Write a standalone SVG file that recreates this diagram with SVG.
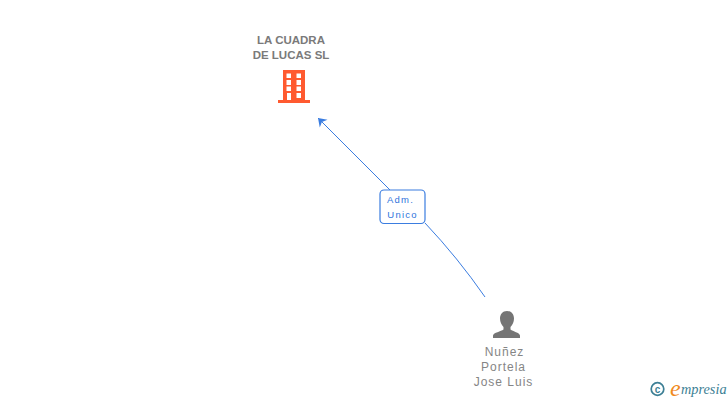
<svg xmlns="http://www.w3.org/2000/svg" width="728" height="400" viewBox="0 0 728 400">
<style>
text{font-family:"Liberation Sans",Arial,sans-serif}
.co{font-size:11.500px;font-weight:bold;fill:#7a7a7a;text-anchor:middle}
.pe{font-size:12px;fill:#858585;text-anchor:middle;letter-spacing:1px}
.ed{font-size:9.500px;fill:#2f74dc;text-anchor:middle;letter-spacing:1.200px}
.ln{fill:none;stroke:#3b7de0;stroke-width:1}
</style>
<defs><marker id="ah" markerUnits="userSpaceOnUse" markerWidth="12" markerHeight="12" refX="8" refY="6" orient="auto"><path d="M8 6L0 .5L2.500 6L0 11.500Z" fill="#3b7de0"/></marker></defs>
<rect width="728" height="400" fill="#fff"/>
<g id="connectors">
<path class="ln" d="M390 190L318 118" marker-end="url(#ah)"/>
<path class="ln" d="M425 223Q458 258 485 297"/>
</g>
<g id="edge-label">
<rect x="380" y="190" width="45" height="33.500" rx="4" fill="#fff" stroke="#3b7de0" stroke-width="1.200"/>
<text class="ed" x="400.500" y="203">Adm.</text>
<text class="ed" x="402.500" y="218">Unico</text>
</g>
<g id="company">
<text class="co" x="291" y="44">LA CUADRA</text>
<text class="co" x="291" y="59">DE LUCAS SL</text>
<path fill="#ff5a30" fill-rule="evenodd" d="M283 70H305V100H310V103H278V100H283ZM286.500 73.500V78H291V73.500ZM296.500 73.500V78H301V73.500ZM286.500 80V85H291V80ZM296.500 80V85H301V80ZM286.500 86.500V91H291V86.500ZM296.500 86.500V91H301V86.500ZM287 93V100H291V93ZM296.500 93V98H301V93Z"/>
</g>
<g id="person">
<path fill="#757575" d="M507 311C511.500 311 514 314.500 514 318.500C514 322 512.500 325 510.500 327V329.500C513 331.500 519.500 332.500 520 335.500V338H493V335.500C493.500 332.500 501 331.500 503.500 329.500V327C501.500 325 500 322 500 318.500C500 314.500 502.500 311 507 311Z"/>
<text class="pe" x="504.500" y="356">Nuñez</text>
<text class="pe" x="503.500" y="371">Portela</text>
<text class="pe" x="503.500" y="386">Jose Luis</text>
</g>
<g id="logo">
<circle cx="657.500" cy="389" r="6.300" fill="none" stroke="#3d7f95" stroke-width="1.700"/>
<text x="657.500" y="392.500" font-size="10" font-weight="bold" fill="#3d7f95" text-anchor="middle">c</text>
<text x="670" y="396" font-size="24" font-style="italic" fill="#f08a1d" style="font-family:'Liberation Serif',serif">e</text>
<text x="681" y="394" font-size="14.300" font-style="italic" fill="#3d7f95" style="font-family:'Liberation Serif',serif">mpresia</text>
</g>
</svg>
